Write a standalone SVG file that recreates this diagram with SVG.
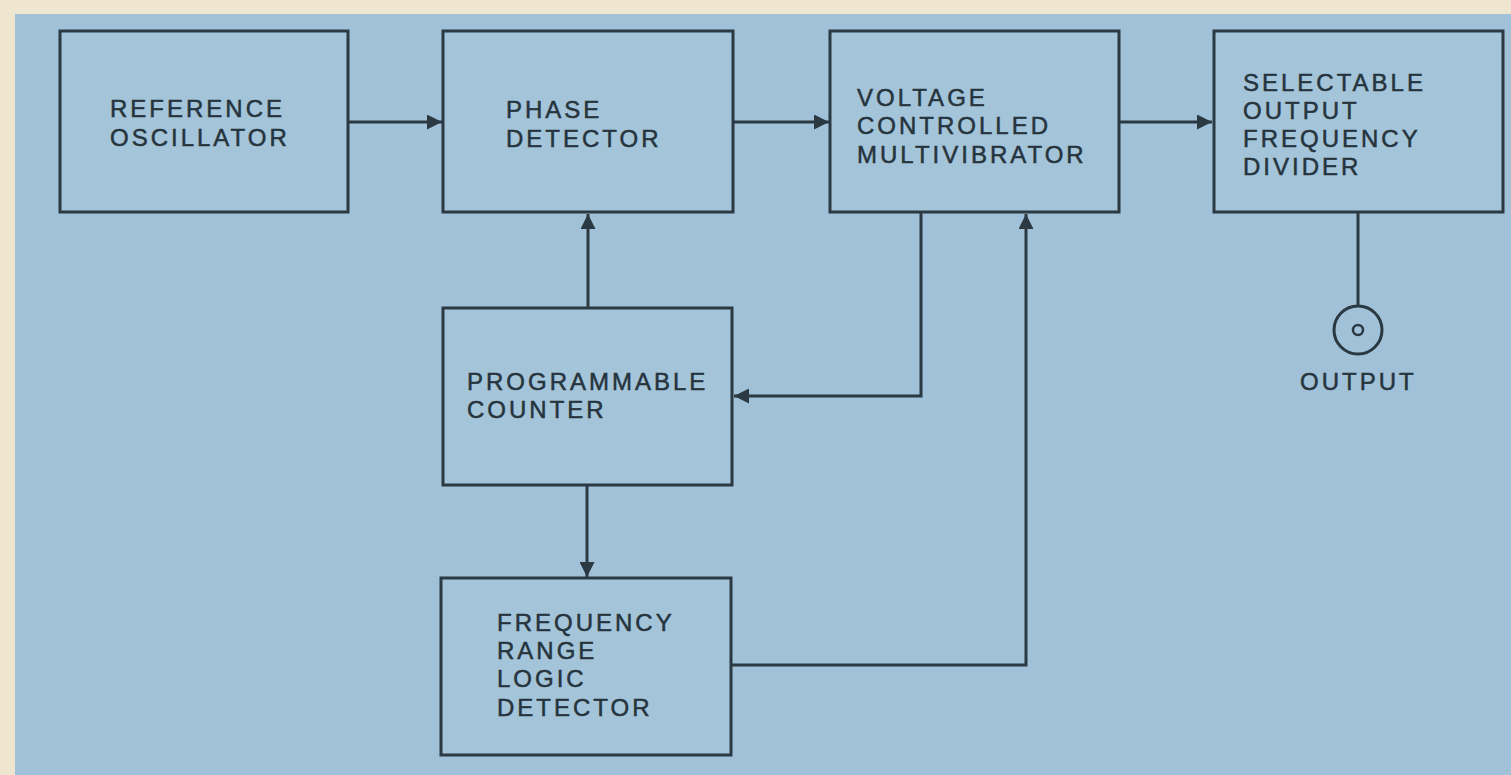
<svg xmlns="http://www.w3.org/2000/svg" width="1511" height="775" viewBox="0 0 1511 775">
<defs>
<style>
.box{fill:#a3c4d9;stroke:#2a3942;stroke-width:3}
.ln{fill:none;stroke:#2a3942;stroke-width:3}
.t{font-family:"Liberation Sans",Arial,sans-serif;font-size:24px;letter-spacing:3px;fill:#26343d;stroke:#26343d;stroke-width:0.5}
</style>
<marker id="ah" viewBox="0 0 10 10" refX="10" refY="5" markerWidth="5.5" markerHeight="5" orient="auto" markerUnits="strokeWidth">
<path d="M0,0 L10,5 L0,10 z" fill="#2a3942"/>
</marker>
</defs>
<rect x="0" y="0" width="1511" height="775" fill="#efe6cf"/>
<rect x="15" y="14" width="1496" height="761" fill="#a0c1d7"/>
<g id="connectors">
<line class="ln" x1="348" y1="122" x2="442" y2="122" marker-end="url(#ah)"/>
<line class="ln" x1="733" y1="122" x2="829" y2="122" marker-end="url(#ah)"/>
<line class="ln" x1="1119" y1="122" x2="1212" y2="122" marker-end="url(#ah)"/>
<line class="ln" x1="588" y1="307" x2="588" y2="214" marker-end="url(#ah)"/>
<polyline class="ln" points="921,212 921,396 734,396" marker-end="url(#ah)"/>
<line class="ln" x1="587" y1="486" x2="587" y2="577" marker-end="url(#ah)"/>
<polyline class="ln" points="731,665 1026,665 1026,214" marker-end="url(#ah)"/>
<line class="ln" x1="1358" y1="212" x2="1358" y2="306"/>
</g>
<g id="reference-oscillator">
<rect class="box" x="60" y="31" width="288" height="181"/>
<text class="t" x="110" y="117">REFERENCE</text>
<text class="t" x="110" y="146">OSCILLATOR</text>
</g>
<g id="phase-detector">
<rect class="box" x="443" y="31" width="290" height="181"/>
<text class="t" x="506" y="118">PHASE</text>
<text class="t" x="506" y="147">DETECTOR</text>
</g>
<g id="vcm">
<rect class="box" x="830" y="31" width="289" height="181"/>
<text class="t" x="857" y="106">VOLTAGE</text>
<text class="t" x="857" y="134">CONTROLLED</text>
<text class="t" x="857" y="163">MULTIVIBRATOR</text>
</g>
<g id="selectable-divider">
<rect class="box" x="1214" y="31" width="289" height="181"/>
<text class="t" x="1243" y="91">SELECTABLE</text>
<text class="t" x="1243" y="119">OUTPUT</text>
<text class="t" x="1243" y="147">FREQUENCY</text>
<text class="t" x="1243" y="175">DIVIDER</text>
</g>
<g id="programmable-counter">
<rect class="box" x="443" y="308" width="289" height="177"/>
<text class="t" x="467" y="390">PROGRAMMABLE</text>
<text class="t" x="467" y="418">COUNTER</text>
</g>
<g id="frequency-range-logic-detector">
<rect class="box" x="441" y="578" width="290" height="177"/>
<text class="t" x="497" y="631">FREQUENCY</text>
<text class="t" x="497" y="659">RANGE</text>
<text class="t" x="497" y="687">LOGIC</text>
<text class="t" x="497" y="716">DETECTOR</text>
</g>
<g id="output">
<circle cx="1358" cy="330" r="24" fill="none" stroke="#2a3942" stroke-width="3"/>
<circle cx="1358" cy="330" r="5" fill="none" stroke="#2a3942" stroke-width="2.5"/>
<text class="t" x="1300" y="390">OUTPUT</text>
</g>
</svg>
